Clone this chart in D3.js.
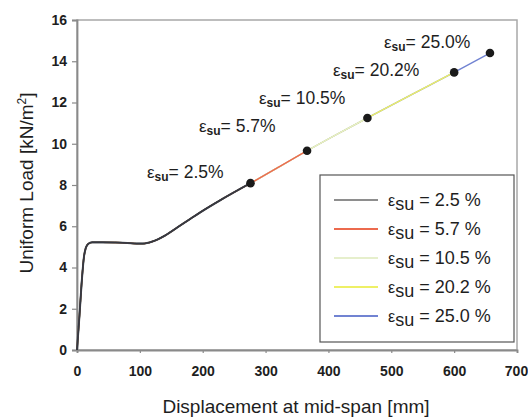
<!DOCTYPE html>
<html><head><meta charset="utf-8">
<script src="https://cdn.jsdelivr.net/npm/d3@7"></script>
<style>
body{margin:0;background:#fff;}
text{font-family:"Liberation Sans",Arial,sans-serif;}
</style></head>
<body>
<svg id="chart" width="528" height="419"></svg>
<script>
// Shared load-displacement curve
const displacement = [0, 4, 8, 11, 14, 18, 24, 40, 60, 80, 95, 105, 120, 140, 160, 180, 200, 230, 276, 320, 366, 410, 462, 530, 600, 657];
const load =         [0, 1.7, 3.5, 4.5, 4.95, 5.15, 5.22, 5.22, 5.21, 5.19, 5.16, 5.16, 5.26, 5.55, 5.95, 6.35, 6.75, 7.3, 8.09, 8.85, 9.66, 10.4, 11.25, 12.35, 13.46, 14.4];

// Series: strain and failure (end) point
const seriesNames = ["2.5", "5.7", "10.5", "20.2", "25.0"];
const seriesColors = ["#1e1e1e", "#ec6a4e", "#e6efcc", "#eef066", "#7183d2"];
const endDisp = [276, 366, 462, 600, 657];
const endLoad = [8.09, 9.66, 11.25, 13.46, 14.4];

const xTicks = [0, 100, 200, 300, 400, 500, 600, 700];
const yTicks = [0, 2, 4, 6, 8, 10, 12, 14, 16];

const svg = d3.select("#chart");
const L = 77, R = 517, T = 20, B = 350;
const x = d3.scaleLinear().domain([0, 700]).range([L, R]);
const y = d3.scaleLinear().domain([0, 16]).range([B, T]);

// Frame
svg.append("rect").attr("x", L).attr("y", T).attr("width", R - L).attr("height", B - T)
  .attr("fill", "none").attr("stroke", "#a8a8a8").attr("stroke-width", 1.5);

// Axes
const yAxis = svg.append("g").attr("transform", `translate(${L},0)`)
  .call(d3.axisLeft(y).tickValues(yTicks).tickSize(5).tickPadding(5).tickFormat(d3.format("d")));
const xAxis = svg.append("g").attr("transform", `translate(0,${B})`)
  .call(d3.axisBottom(x).tickValues(xTicks).tickSize(3).tickPadding(13).tickFormat(d3.format("d")));
[yAxis, xAxis].forEach(g => {
  g.select(".domain").attr("stroke", "#8a8a8a").attr("stroke-width", 1.8);
  g.selectAll(".tick line").attr("stroke", "#8a8a8a").attr("stroke-width", 1.2);
  g.selectAll(".tick text").attr("font-size", 14).attr("font-weight", "bold").attr("fill", "#1e1e1e")
    .attr("font-family", "'Liberation Sans',Arial,sans-serif");
});
xAxis.selectAll(".tick text").filter(d => d === 700).attr("dx", -1).attr("text-anchor", "middle");

// Curves: longest drawn first so shorter series show on top
const pts = displacement.map((d, i) => [d, load[i]]);
const line = d3.line().x(d => x(d[0])).y(d => y(d[1])).curve(d3.curveMonotoneX);
for (let s = seriesNames.length - 1; s >= 0; s--) {
  const data = pts.filter(p => p[0] <= endDisp[s]);
  svg.append("path").datum(data).attr("d", line).attr("fill", "none")
    .attr("stroke", seriesColors[s]).attr("stroke-width", s === 0 ? 1.6 : 1.4);
}
// darker overlay for the early part (thick gray look)
svg.append("path").datum(pts.filter(p => p[0] <= 276)).attr("d", line).attr("fill", "none")
  .attr("stroke", "#3a3d48").attr("stroke-width", 2).attr("opacity", 0.85);

// Failure dots
svg.selectAll("circle.end").data(endDisp).enter().append("circle")
  .attr("cx", (d) => x(d)).attr("cy", (d, i) => y(endLoad[i])).attr("r", 4.3).attr("fill", "#1a1a1a");

// Annotations
const annX = [147, 199, 259, 333, 384];
const annY = [178, 132, 104, 76, 48];
seriesNames.forEach((n, i) => {
  const t = svg.append("text").attr("x", annX[i]).attr("y", annY[i]).attr("fill", "#1e1e1e");
  t.append("tspan").text("ε").attr("font-size", 17);
  t.append("tspan").text("su").attr("font-size", 12).attr("font-weight", "bold").attr("dy", 3);
  t.append("tspan").text("= " + n + "%").attr("font-size", 17.5).attr("dy", -3);
});

// Legend
svg.append("rect").attr("x", 320).attr("y", 175).attr("width", 194).attr("height", 167)
  .attr("fill", "#fff").attr("stroke", "#555").attr("stroke-width", 1.2);
const legY = [200, 229, 258, 287, 316];
seriesNames.forEach((n, i) => {
  svg.append("line").attr("x1", 334).attr("x2", 378).attr("y1", legY[i]).attr("y2", legY[i])
    .attr("stroke", seriesColors[i]).attr("stroke-width", i === 0 ? 1.2 : 2);
  const t = svg.append("text").attr("x", 388).attr("y", legY[i] + 6).attr("fill", "#1e1e1e").attr("font-size", 18);
  t.append("tspan").text("ε").attr("font-size", 16);
  t.append("tspan").text("su").attr("dy", 4);
  t.append("tspan").text(" = " + n + " %").attr("dy", -4);
});

// Axis titles
svg.append("text").attr("x", 296).attr("y", 413).attr("text-anchor", "middle")
  .attr("font-size", 19).attr("fill", "#1e1e1e").text("Displacement at mid-span [mm]");
const yl = svg.append("text").attr("transform", "translate(33,183) rotate(-90)").attr("text-anchor", "middle")
  .attr("font-size", 19).attr("fill", "#1e1e1e");
yl.append("tspan").text("Uniform Load [kN/m");
yl.append("tspan").text("2").attr("font-size", 12).attr("dy", -7);
yl.append("tspan").text("]").attr("dy", 7);
</script>
</body></html>
